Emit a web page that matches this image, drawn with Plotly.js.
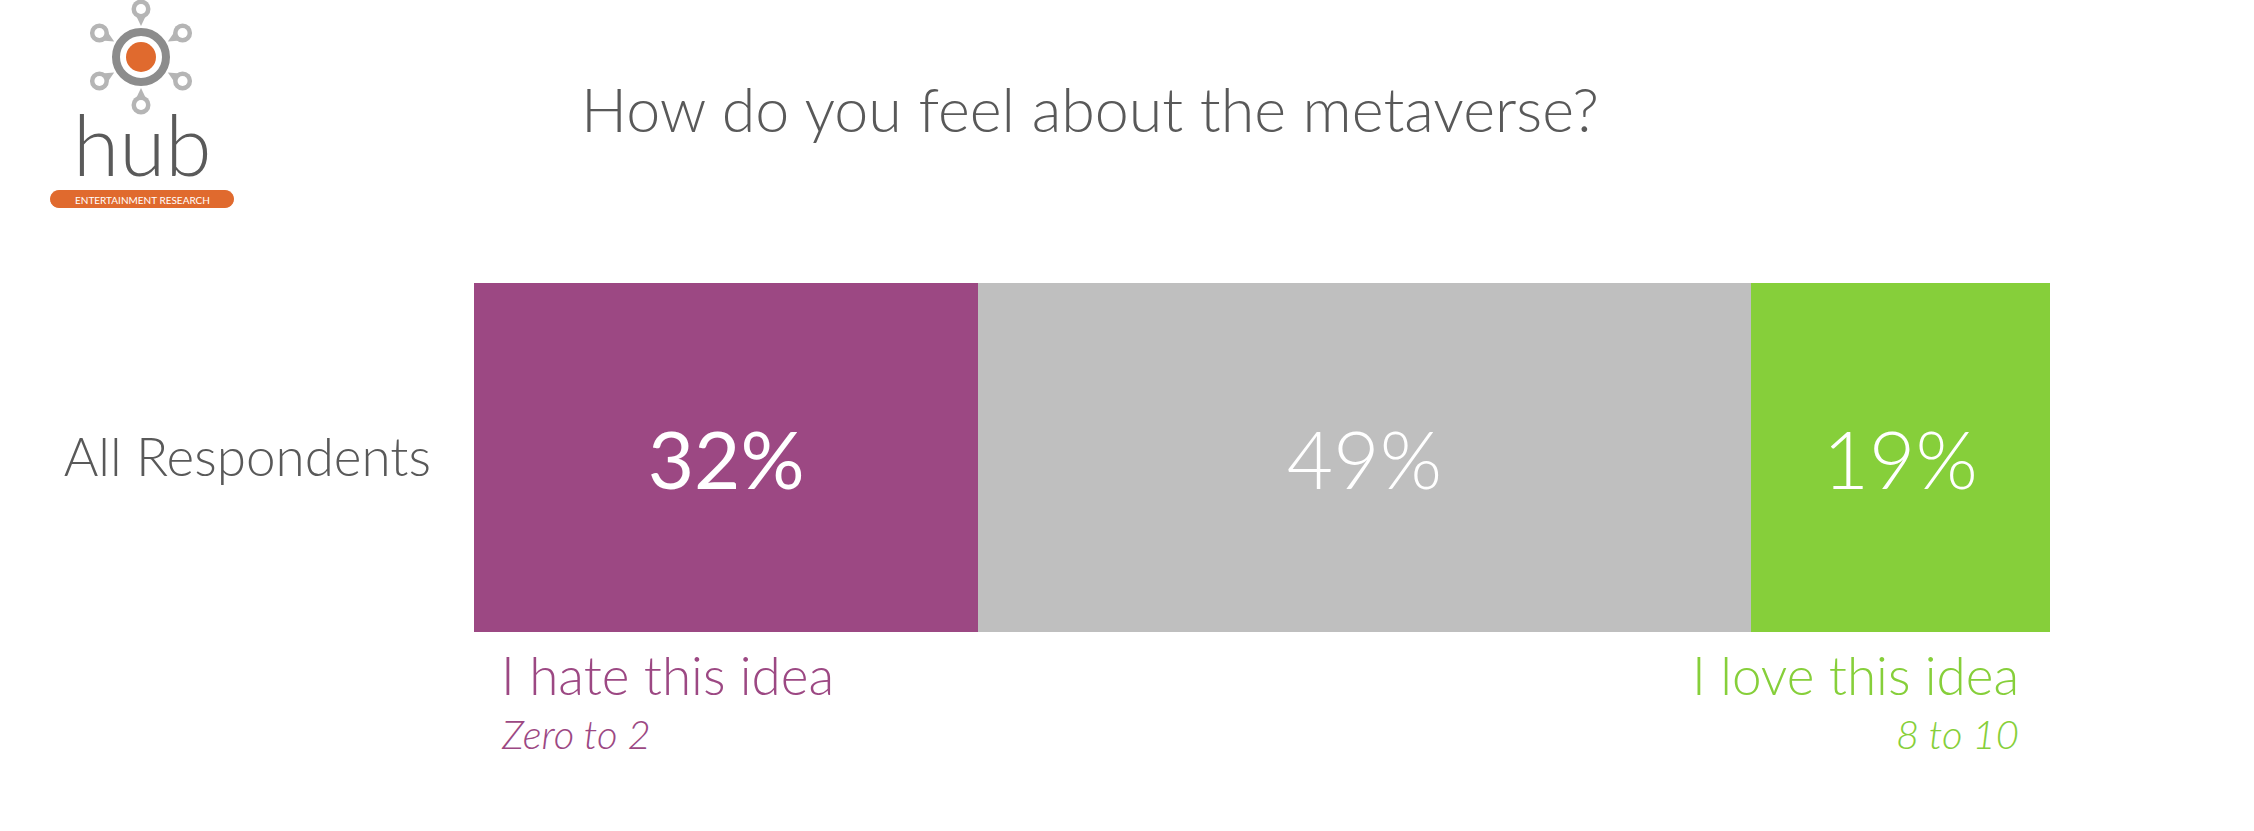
<!DOCTYPE html>
<html>
<head>
<meta charset="utf-8">
<script src="https://cdn.plot.ly/plotly-3.0.1.min.js"></script>
<style>
  html, body { margin: 0; padding: 0; background: #ffffff; }
  #chart { width: 2254px; height: 831px; }
</style>
</head>
<body>
<div id="chart"></div>
<script>
// ---- Data ----
const categories = ['All Respondents'];
const seriesNames = ['I hate this idea', 'Neutral', 'I love this idea'];
const hateValues = [32];
const neutralValues = [49];
const loveValues = [19];
const hateLabels = ['I hate this idea', 'Zero to 2'];
const loveLabels = ['I love this idea', '8 to 10'];
const chartTitle = 'How do you feel about the metaverse?';

// ---- Layout helpers (pixel -> paper) ----
const W = 2254, H = 831;
const M = { l: 474, r: 204, t: 283, b: 199 };
const PW = W - M.l - M.r, PH = H - M.t - M.b;
const px = x => (x - M.l) / PW;
const py = y => (H - M.b - y) / PH;

const FONT = 'Lato, "Open Sans", sans-serif';
const PURPLE = '#9C4883', GREY = '#BFBFBF', GREEN = '#86CF3A', TEXTGREY = '#595959';

function bar(name, vals, color, weight) {
  return {
    type: 'bar', orientation: 'h', name: name,
    y: categories, x: vals,
    marker: { color: color, line: { width: 0 } },
    texttemplate: '%{x}%', textposition: 'inside', insidetextanchor: 'middle',
    textfont: { family: FONT, size: 80, color: '#ffffff', weight: weight },
    hoverinfo: 'name+x'
  };
}
const traces = [
  bar(seriesNames[0], hateValues, PURPLE, 400),
  bar(seriesNames[1], neutralValues, GREY, 300),
  bar(seriesNames[2], loveValues, GREEN, 300)
];

// ---- Logo (shapes) ----
const shapes = [];
const annotations = [];
const C = [141, 57];
function circlePx(cx, cy, r, fill, line, lw) {
  shapes.push({ type: 'circle', xref: 'paper', yref: 'paper',
    x0: px(cx - r), x1: px(cx + r), y0: py(cy + r), y1: py(cy - r),
    fillcolor: fill, line: { color: line || fill, width: lw || 0 }, layer: 'above' });
}
function pathPx(pts, fill) {
  const d = pts.map((p, i) => (i ? 'L' : 'M') + px(p[0]) + ',' + py(p[1])).join(' ') + ' Z';
  shapes.push({ type: 'path', xref: 'paper', yref: 'paper', path: d,
    fillcolor: fill, line: { width: 0 }, layer: 'above' });
}
const PIN = '#B5B5B5';
[90, 30, 150, 210, 270, 330].forEach(a => {
  const rad = a * Math.PI / 180;
  const ux = Math.cos(rad), uy = -Math.sin(rad);
  const cx = C[0] + ux * 48, cy = C[1] + uy * 48;
  const tx = C[0] + ux * 31, ty = C[1] + uy * 31;
  const r = 9.5;
  pathPx([[cx - uy * r * 0.85, cy + ux * r * 0.85], [tx, ty], [cx + uy * r * 0.85, cy - ux * r * 0.85]], PIN);
  circlePx(cx, cy, r, PIN);
  circlePx(cx, cy, 5, '#ffffff');
});
circlePx(C[0], C[1], 25, 'rgba(0,0,0,0)', '#8C8C8C', 8);
circlePx(C[0], C[1], 15, '#E06A2E');
// pill
shapes.push({ type: 'path', xref: 'paper', yref: 'paper', layer: 'above',
  path: (function () {
    const x0 = 50, x1 = 234, y0 = 190, y1 = 208, r = 9;
    const pts = [];
    for (let i = 0; i <= 12; i++) { const t = -Math.PI / 2 + Math.PI * i / 12; pts.push([x1 - r + r * Math.cos(t), (y0 + y1) / 2 + r * Math.sin(t)]); }
    for (let i = 0; i <= 12; i++) { const t = Math.PI / 2 + Math.PI * i / 12; pts.push([x0 + r + r * Math.cos(t), (y0 + y1) / 2 + r * Math.sin(t)]); }
    return pts.map((p, i) => (i ? 'L' : 'M') + px(p[0]) + ',' + py(p[1])).join(' ') + ' Z';
  })(),
  fillcolor: '#E06A2E', line: { width: 0 } });

function ann(text, x, y, xanchor, yanchor, font) {
  annotations.push({ text: text, xref: 'paper', yref: 'paper', x: px(x), y: py(y),
    xanchor: xanchor, yanchor: yanchor, showarrow: false, font: font, borderpad: 0 });
}
ann('hub', 142, 144, 'center', 'middle', { family: FONT, size: 84, color: '#5A5A5A', weight: 300 });
ann('ENTERTAINMENT RESEARCH', 142, 200, 'center', 'middle', { family: FONT, size: 10, color: '#ffffff' });

// ---- Labels under bar ----
ann(hateLabels[0], 500, 674, 'left', 'middle', { family: FONT, size: 53, color: PURPLE, weight: 300 });
ann('<i>' + hateLabels[1] + '</i>', 500, 734, 'left', 'middle', { family: FONT, size: 40, color: PURPLE, weight: 300 });
ann(loveLabels[0], 2020, 674, 'right', 'middle', { family: FONT, size: 53, color: GREEN, weight: 300 });
ann('<i>' + loveLabels[1] + '</i>', 2020, 734, 'right', 'middle', { family: FONT, size: 40, color: GREEN, weight: 300 });

const layout = {
  width: W, height: H,
  paper_bgcolor: '#ffffff', plot_bgcolor: '#ffffff',
  margin: M,
  barmode: 'stack', bargap: 0,
  showlegend: false,
  title: { text: chartTitle, xref: 'container', yref: 'container',
    x: 1090 / W, y: 1 - 111 / H, xanchor: 'center', yanchor: 'middle',
    font: { family: FONT, size: 61, color: TEXTGREY, weight: 300 } },
  xaxis: { range: [0, 100], visible: false, fixedrange: true },
  yaxis: { range: [-0.5, 0.5], showgrid: false, zeroline: false, showline: false,
    ticks: '', ticklabelstandoff: 42,
    tickfont: { family: FONT, size: 53, color: TEXTGREY, weight: 300 }, fixedrange: true },
  shapes: shapes,
  annotations: annotations
};

Plotly.newPlot('chart', traces, layout, { displayModeBar: false, staticPlot: true });
</script>
</body>
</html>
